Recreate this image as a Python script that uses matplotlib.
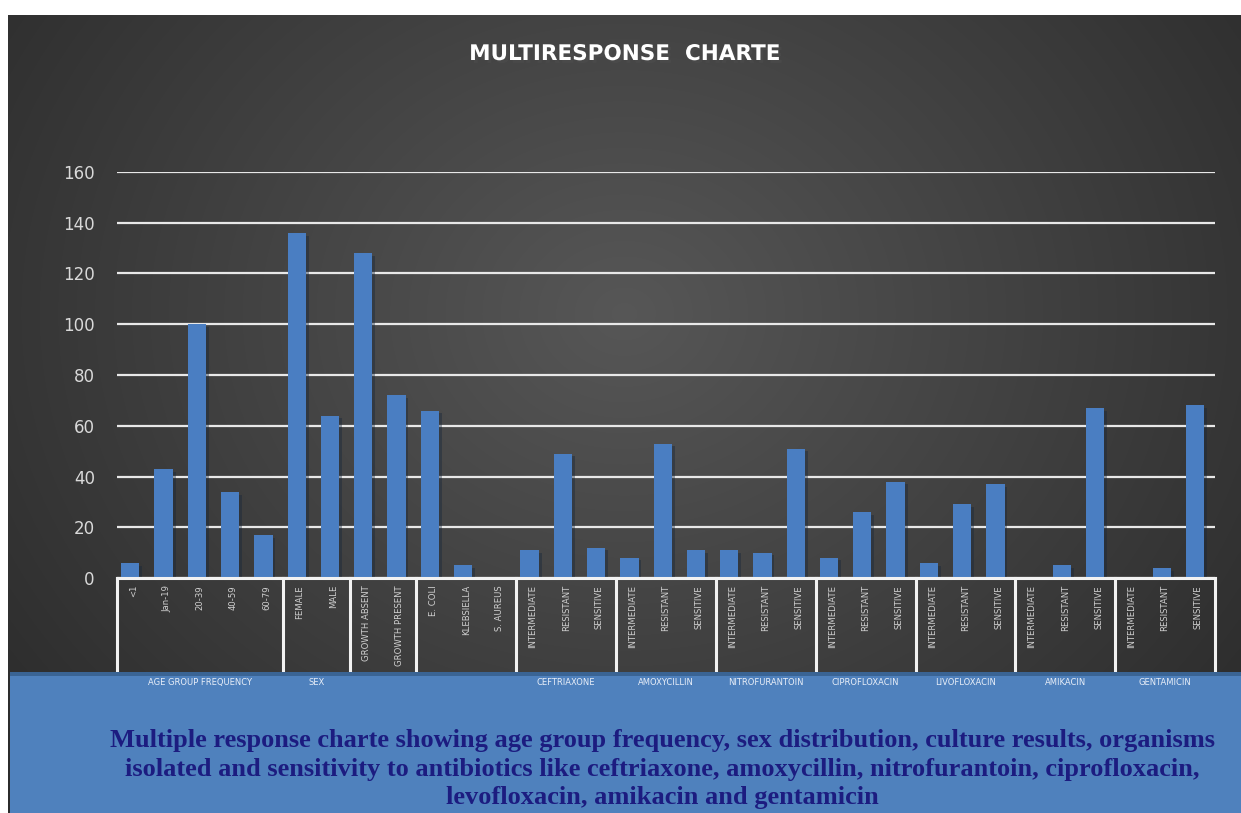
import numpy as np
import matplotlib
matplotlib.use("Agg")
import matplotlib.pyplot as plt
import matplotlib.patheffects as pe
from matplotlib.patches import Rectangle
from matplotlib.transforms import blended_transform_factory

# category labels under each bar
labels = ['<1', 'Jan-19', '20-39', '40-59', '60-79',
          'FEMALE', 'MALE',
          'GROWTH ABSENT', 'GROWTH PRESENT',
          'E. COLI', 'KLEBSIELLA', 'S. AUREUS'] + \
         ['INTERMEDIATE', 'RESISTANT', 'SENSITIVE'] * 7

values = [6, 43, 100, 34, 17,
          136, 64,
          128, 72,
          66, 5, 0,
          11, 49, 12,   # ceftriaxone
          8, 53, 11,    # amoxycillin
          11, 10, 51,   # nitrofurantoin
          8, 26, 38,    # ciprofloxacin
          6, 29, 37,    # levofloxacin
          0, 5, 67,     # amikacin
          0, 4, 68]     # gentamicin

group_names = ['AGE GROUP FREQUENCY', 'SEX', '', '', 'CEFTRIAXONE', 'AMOXYCILLIN',
               'NITROFURANTOIN', 'CIPROFLOXACIN', 'LIVOFLOXACIN', 'AMIKACIN', 'GENTAMICIN']
group_sizes = [5, 2, 2, 3, 3, 3, 3, 3, 3, 3, 3]

yticks = [0, 20, 40, 60, 80, 100, 120, 140, 160]

W, H = 1241, 813
fig = plt.figure(figsize=(W / 100, H / 100), dpi=100)
fig.patch.set_facecolor('white')

# dark radial gradient background
bg = fig.add_axes([8 / W, 0, 1 - 8 / W, (H - 15) / H], zorder=-5)
gx, gy = np.meshgrid(np.linspace(-1, 1, 400), np.linspace(-1, 1, 300))
r = np.sqrt(((gx + 0.0) / 1.0) ** 2 + ((gy + 0.25) / 1.3) ** 2)
shade = 0.34 - 0.17 * np.clip(r, 0, 1.3) / 1.3
bg.imshow(np.dstack([shade] * 3), aspect='auto', extent=[0, 1, 0, 1], interpolation='bicubic')
bg.axis('off')

ax = fig.add_axes([117 / W, 235 / H, (1215 - 117) / W, (641 - 235) / H], zorder=0)
ax.patch.set_alpha(0)
x = np.arange(len(values))
ax.bar(x - 0.1, values, width=0.55, color='#4a7ec2', zorder=3,
       path_effects=[pe.SimplePatchShadow(offset=(2, -2), alpha=0.4), pe.Normal()])
ax.set_xlim(-0.5, len(values) - 0.5)
ax.set_ylim(0, 160)
ax.set_yticks(yticks)
ax.tick_params(axis='y', length=0, pad=16, labelsize=12, labelcolor='#d9d9d9')
ax.yaxis.grid(True, color='#e8e8e8', linewidth=1.6)
ax.set_axisbelow(True)
for s in ax.spines.values():
    s.set_visible(False)
ax.set_xticks(x)
ax.set_xticklabels(labels, rotation=90, va='top', ha='center', fontsize=6.1,
                   color='#d0d0d0', family=['Liberation Sans Narrow', 'DejaVu Sans'])
ax.tick_params(axis='x', length=0, pad=5)

# category box lines below the axis
tr = blended_transform_factory(ax.transData, ax.transAxes)
ax.plot([-0.5, len(values) - 0.5], [0, 0], color='#f2f2f2', lw=2.2, transform=tr,
        clip_on=False, zorder=4)
edges = np.concatenate([[0], np.cumsum(group_sizes)]) - 0.5
for e in edges:
    ax.plot([e, e], [0, -0.3], color='#f2f2f2', lw=2.2, transform=tr, clip_on=False, zorder=4)

# caption box
fig.add_artist(Rectangle((10 / W, 0), 1 - 10 / W, 141 / H, transform=fig.transFigure,
                         facecolor='#4f81bd', edgecolor='none', zorder=2))
fig.add_artist(Rectangle((10 / W, 137 / H), 1 - 10 / W, 4 / H, transform=fig.transFigure,
                         facecolor='#3a6494', edgecolor='none', zorder=2))

# group labels
for name, lo, hi in zip(group_names, edges[:-1], edges[1:]):
    if name:
        xd = ax.transData.transform(((lo + hi) / 2, 0))[0] / W
        fig.text(xd, (H - 682) / H, name, ha='center', va='center', fontsize=6,
                 color='#e8eef8', family=['Liberation Sans Narrow', 'DejaVu Sans'], zorder=5)

title = fig.text(625 / W, (H - 54) / H, 'MULTIRESPONSE  CHARTE', ha='center', va='center',
                 fontsize=15.5, fontweight='bold', color='white', zorder=5)
title.set_path_effects([pe.withSimplePatchShadow(offset=(2, -2), alpha=0.6)])

caption = ('Multiple response charte showing age group frequency, sex distribution, culture results, organisms\n'
           'isolated and sensitivity to antibiotics like ceftriaxone, amoxycillin, nitrofurantoin, ciprofloxacin,\n'
           'levofloxacin, amikacin and gentamicin')
fig.text(662 / W, (H - 769) / H, caption, ha='center', va='center', fontsize=19,
         fontweight='bold', color='#1c1c80', family='Liberation Serif',
         linespacing=1.33, zorder=5)

fig.savefig('out.png', dpi=100)
